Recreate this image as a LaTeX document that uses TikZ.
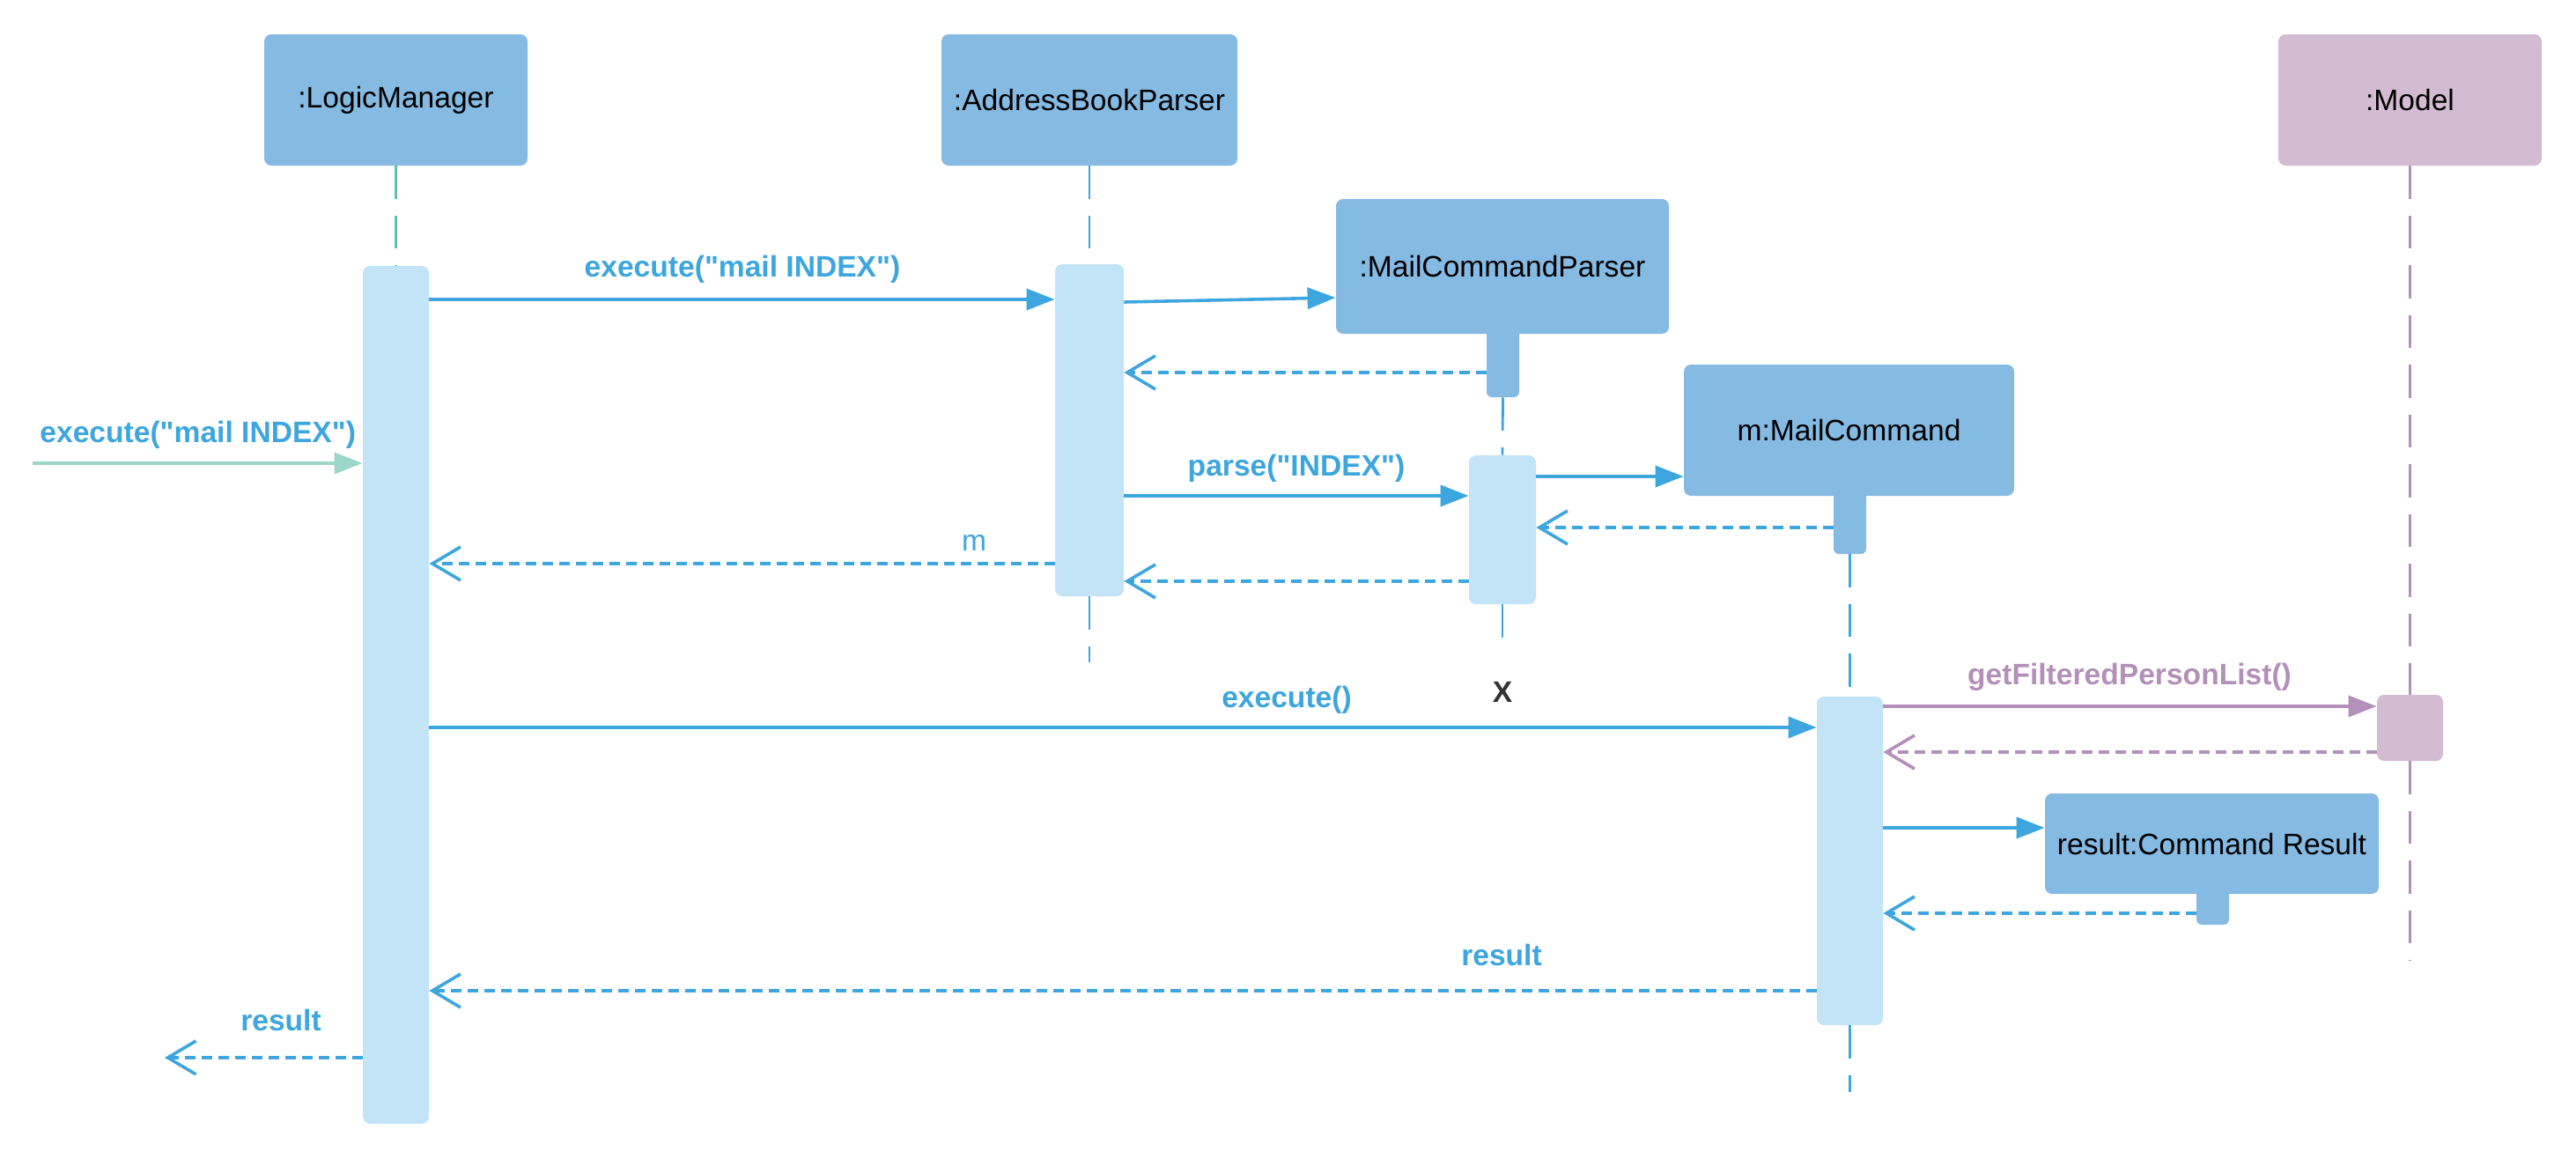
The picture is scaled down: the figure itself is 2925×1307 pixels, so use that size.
\documentclass[tikz,border=0pt]{standalone}
\usepackage{fontspec}
\setmainfont{Liberation Sans}
\usetikzlibrary{arrows.meta}
\definecolor{headblue}{HTML}{85BAE3}
\definecolor{actblue}{HTML}{C2E4F6}
\definecolor{msgblue}{HTML}{3EA6DE}
\definecolor{modelpink}{HTML}{D3BBD2}
\definecolor{msgpurple}{HTML}{B390B9}
\definecolor{foundteal}{HTML}{9BD6C9}
\definecolor{lineteal}{HTML}{5EBFAF}
\definecolor{xgray}{HTML}{333333}
\newcommand{\dq}{\textquotedbl}
\begin{document}
\begin{tikzpicture}[x=0.5pt,y=-0.5pt,
  head/.style={fill=headblue, rounded corners=4pt, inner sep=0pt, font=\fontsize{16.8}{20}\selectfont, text=black},
  bar/.style={fill=actblue, rounded corners=4pt, inner sep=0pt},
  stub/.style={fill=headblue, rounded corners=3pt, inner sep=0pt, minimum width=18.5pt},
  lifeline/.style={draw=msgblue, line width=1.4pt, dash pattern=on 18.75pt off 9.5pt},
  call/.style={draw=msgblue, line width=1.8pt, -{Triangle[length=16pt,width=12pt]}},
  ret/.style={draw=msgblue, line width=1.8pt, dash pattern=on 5.8pt off 3.7pt, -{Straight Barb[length=16pt,width=19pt]}},
  lbl/.style={font=\fontsize{16.8}{20}\selectfont\bfseries, text=msgblue, inner sep=0pt},
]
\fill[white] (0,0) rectangle (2925,1307);

% stubs (behind heads)
\node[stub, minimum height=40.5pt] (mcpstub) at (1706.5,410.5) {};
\node[stub, minimum height=37pt] (mcstub) at (2100.5,592) {};
\node[stub, minimum height=22.5pt] (resstub) at (2512.5,1027.5) {};

% heads
\node[head, minimum width=149.5pt, minimum height=74.5pt] (lm) at (449.5,113.5) {:LogicManager};
\node[head, minimum width=168pt, minimum height=74.5pt] (abp) at (1237,113.5) {:AddressBookParser};
\node[head, fill=modelpink, minimum width=149.5pt, minimum height=74.5pt] (model) at (2736.5,113.5) {:Model};
\node[head, minimum width=189pt, minimum height=76.5pt] (mcp) at (1706,302.5) {:MailCommandParser};
\node[head, minimum width=187.5pt, minimum height=74.5pt] (mc) at (2099.5,488.5) {m:MailCommand};
\node[head, minimum width=189.5pt, minimum height=57pt] (res) at (2511.5,958) {result:Command Result};

% activation bars
\node[bar, minimum width=37.5pt, minimum height=487pt] (lmact) at (449.5,789) {};
\node[bar, minimum width=39pt, minimum height=188.5pt] (abpact) at (1237,488.5) {};
\node[bar, minimum width=38pt, minimum height=84.5pt] (mcpact) at (1706,601.5) {};
\node[bar, minimum width=37.5pt, minimum height=186.5pt] (mcact) at (2100.5,977.5) {};
\node[bar, fill=modelpink, minimum width=37.5pt, minimum height=37.5pt] (modelact) at (2736.5,826.5) {};

% lifelines
\coordinate (abpend) at (1237,752);
\coordinate (mcpend) at (1706,727);
\coordinate (mcend) at (2100.5,1240);
\coordinate (modelend) at (2736.5,1091);
\draw[lifeline, draw=lineteal] (lm.south) -- (lmact.north);
\draw[lifeline] (abp.south) -- (abpact.north);
\draw[lifeline] (abpact.south) -- (abpend);
\draw[lifeline] (mcpstub.south) -- (mcpact.north);
\draw[lifeline] (mcpact.south) -- (mcpend);
\draw[lifeline] (mcstub.south) -- (mcact.north);
\draw[lifeline] (mcact.south) -- (mcend);
\draw[lifeline, draw=msgpurple] (model.south) -- (modelact.north);
\draw[lifeline, draw=msgpurple] (modelact.south) -- (modelend);

% destruction mark
\node[font=\fontsize{16.8}{20}\selectfont\bfseries, text=xgray, inner sep=0pt] (xmark) at (1706,786) {X};

% found message
\coordinate (foundstart) at (37,526);
\draw[call, draw=foundteal] (foundstart) -- (lmact.west |- 0,526);
\node[lbl, anchor=west] (l1) at (45,494) {execute(\dq mail INDEX\dq)};

% messages
\draw[call] (lmact.east |- 0,340) -- (abpact.west |- 0,340);
\node[lbl] (l2) at (843,306) {execute(\dq mail INDEX\dq)};
\draw[call] (abpact.east |- 0,343) -- (mcp.west |- 0,338);
\draw[ret] (mcpstub.west |- 0,423) -- (abpact.east |- 0,423);
\draw[call] (abpact.east |- 0,563) -- (mcpact.west |- 0,563);
\node[lbl] (l3) at (1472,532) {parse(\dq INDEX\dq)};
\draw[call] (mcpact.east |- 0,541) -- (mc.west |- 0,541);
\draw[ret] (mcstub.west |- 0,599) -- (mcpact.east |- 0,599);
\draw[ret] (mcpact.west |- 0,660) -- (abpact.east |- 0,660);
\draw[ret] (abpact.west |- 0,640) -- (lmact.east |- 0,640);
\node[lbl, font=\fontsize{16.8}{20}\selectfont] (l4) at (1106,616) {m};
\draw[call] (lmact.east |- 0,826) -- (mcact.west |- 0,826);
\node[lbl] (l5) at (1461,795) {execute()};
\draw[call, draw=msgpurple] (mcact.east |- 0,802) -- (modelact.west |- 0,802);
\node[lbl, text=msgpurple] (l6) at (2418,769) {getFilteredPersonList()};
\draw[ret, draw=msgpurple] (modelact.west |- 0,854) -- (mcact.east |- 0,854);
\draw[call] (mcact.east |- 0,940) -- (res.west |- 0,940);
\draw[ret] (resstub.west |- 0,1037) -- (mcact.east |- 0,1037);
\draw[ret] (mcact.west |- 0,1125) -- (lmact.east |- 0,1125);
\node[lbl] (l7) at (1705,1084) {result};
\coordinate (outend) at (187,1201);
\draw[ret] (lmact.west |- 0,1201) -- (outend);
\node[lbl] (l8) at (319,1158) {result};
\end{tikzpicture}
\end{document}
